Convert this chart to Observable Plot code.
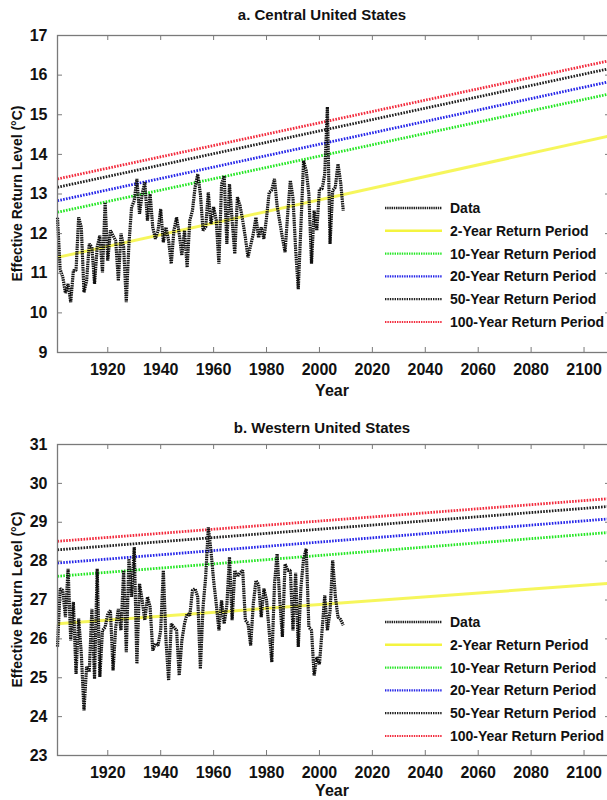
<!DOCTYPE html>
<html><head><meta charset="utf-8">
<script src="https://cdn.jsdelivr.net/npm/d3@7"></script>
<script src="https://cdn.jsdelivr.net/npm/@observablehq/plot@0.6"></script>
<style>
html,body{margin:0;padding:0;background:#fff;overflow:hidden}
#wrap{position:relative;width:607px;height:800px;overflow:hidden;font-family:"Liberation Sans",Arial,sans-serif}
#wrap svg{display:block;max-width:none !important;}
#wrap svg text{font-weight:bold}
</style></head><body><div id="wrap"></div>
<script>
// ---- data ----
const years = d3.range(1901, 2010);
const centralTemps = [
 12.40,11.10,10.90,10.50,10.73,10.27,11.07,11.07,12.41,12.16,
 10.52,10.81,11.74,11.66,10.73,11.66,11.95,11.02,12.79,11.32,
 12.08,11.95,11.82,10.81,12.00,11.66,10.27,11.74,12.67,12.83,
 13.38,12.50,13.00,13.30,12.33,13.00,12.16,11.87,12.08,12.62,
 11.78,12.16,11.82,11.24,12.08,12.41,12.00,11.45,12.08,11.15,
 12.33,12.58,13.17,13.50,13.00,12.08,12.16,13.04,12.24,12.67,
 12.33,11.24,13.25,13.46,11.74,13.25,12.33,11.49,12.92,12.70,
 12.33,11.90,11.40,11.70,12.00,12.41,11.90,12.16,11.87,12.40,
 13.04,13.10,13.38,12.70,12.30,11.90,11.53,12.50,13.34,12.90,
 11.60,10.60,12.20,13.84,13.59,13.00,11.24,12.58,12.08,13.13,
 13.13,13.50,15.20,11.74,13.09,13.17,13.76,13.30,12.58
];
const westernTemps = [
 25.80,27.29,27.25,26.56,27.80,25.96,26.95,25.10,26.52,25.62,
 24.16,25.28,25.15,26.77,24.97,27.80,25.02,26.22,26.30,26.65,
 26.73,25.19,26.30,26.77,26.22,27.76,25.66,28.06,27.08,28.36,
 25.36,27.42,26.99,26.48,27.08,26.82,25.70,25.88,25.83,26.22,
 27.76,25.96,24.93,26.39,26.30,26.22,25.06,25.96,26.39,26.65,
 26.60,27.25,27.29,27.08,25.23,26.82,27.59,28.87,28.27,27.50,
 26.90,26.22,26.99,26.39,26.86,28.10,26.48,27.76,27.60,27.70,
 27.76,26.48,26.40,25.83,26.90,27.50,27.40,26.56,27.29,27.00,
 26.20,25.40,27.40,28.19,27.00,26.05,27.93,27.76,27.76,26.22,
 27.70,25.79,27.33,28.06,28.32,26.30,26.22,25.06,25.53,25.35,
 26.22,27.12,26.22,26.70,28.02,27.10,26.56,26.50,26.35
];
const periods = ["2-Year Return Period","10-Year Return Period","20-Year Return Period","50-Year Return Period","100-Year Return Period"];
const periodColors = ["#f4f440","#22e622","#2424e8","#1e1e1e","#f22a3c"];
const lineYears = [1901, 2110];
const centralStart = [11.40, 12.54, 12.83, 13.17, 13.38];
const centralEnd   = [14.47, 15.53, 15.84, 16.17, 16.37];
const westernStart = [26.39, 27.61, 27.95, 28.29, 28.51];
const westernEnd   = [27.43, 28.74, 29.09, 29.41, 29.61];
const xTicks = d3.range(1920, 2101, 20);
const centralYTicks = d3.range(9, 18);
const westernYTicks = d3.range(23, 32);

const FONT = '"Liberation Sans", Arial, sans-serif';
const AXIS = "#7a7a7a";

function panel(o) {
  const W = 612, ML = 57, MR = 2;
  const innerW = W - ML - MR;
  const innerH = o.height - o.marginTop - o.marginBottom;
  const data = years.map((y, i) => ({year: y, value: o.temps[i]}));
  const rlMarks = periods.map((p, i) => Plot.line(
    lineYears.map((yr, j) => ({year: yr, value: j === 0 ? o.start[i] : o.end[i]})),
    {x: "year", y: "value", stroke: periodColors[i], strokeLinecap: "butt",
     strokeWidth: i === 0 ? 3 : 2.8, strokeDasharray: i === 0 ? null : "1.6,1.3",
     strokeOpacity: i === 0 ? 0.85 : 1}));
  const chart = Plot.plot({
    width: W, height: o.height,
    marginLeft: ML, marginRight: MR, marginTop: o.marginTop, marginBottom: o.marginBottom,
    style: {fontFamily: FONT, fontSize: "16px", fontWeight: "bold", color: "#111", background: "transparent", maxWidth: "none"},
    x: {domain: [1901, 2110], ticks: xTicks, tickFormat: d => String(d), tickSize: 0, tickPadding: 11, label: null},
    y: {domain: o.yDomain, ticks: o.yTicks, tickSize: 0, tickPadding: 10, label: null},
    marks: [
      ...rlMarks,
      Plot.line(data, {x: "year", y: "value", stroke: "#111", strokeWidth: 3.2, strokeDasharray: "1.5,0.8", strokeLinecap: "butt", strokeLinejoin: "miter", curve: "linear"}),
      Plot.frame({stroke: AXIS, strokeWidth: 1.3}),
      Plot.tickX(xTicks, {x: d => d, stroke: AXIS, insetTop: innerH - 5}),
      Plot.tickX(xTicks, {x: d => d, stroke: AXIS, insetBottom: innerH - 5}),
      Plot.tickY(o.yTicks, {y: d => d, stroke: AXIS, insetRight: innerW - 5}),
      Plot.tickY(o.yTicks, {y: d => d, stroke: AXIS, insetLeft: innerW - 5})
    ]
  });
  const svg = d3.select(chart);
  // title
  svg.append("text").attr("x", 322).attr("y", o.titleY).attr("dy", "0.35em")
    .attr("text-anchor", "middle").attr("font-size", 15).attr("fill", "#111").text(o.title);
  // y label
  const cy = o.marginTop + innerH / 2;
  svg.append("text").attr("transform", `translate(17,${cy}) rotate(-90)`).attr("dy", "0.35em")
    .attr("text-anchor", "middle").attr("font-size", 14).attr("fill", "#111").text("Effective Return Level (\u00B0C)");
  // x label
  svg.append("text").attr("x", 332).attr("y", o.marginTop + innerH + o.yearOffset).attr("dy", "0.35em")
    .attr("text-anchor", "middle").attr("font-size", 16).attr("fill", "#111").text("Year");
  // legend
  const items = [{label: "Data", color: "#222", dash: "1.4,0.8", w: 2.4}]
    .concat(periods.map((p, i) => ({label: p, color: periodColors[i], dash: i === 0 ? null : "1.4,1", w: i === 0 ? 2.6 : 2.2})));
  const g = svg.append("g").attr("text-anchor", "start");
  items.forEach((it, k) => {
    const y = o.legendTop + k * 22.8;
    g.append("line").attr("x1", 385).attr("x2", 442).attr("y1", y).attr("y2", y)
      .attr("stroke", it.color).attr("stroke-width", it.w).attr("stroke-dasharray", it.dash);
    g.append("text").attr("x", 450).attr("y", y).attr("dy", "0.35em").attr("font-size", 14)
      .attr("text-anchor", "start").attr("fill", "#111").text(it.label);
  });
  return chart;
}

const wrap = document.getElementById("wrap");
wrap.appendChild(panel({
  title: "a. Central United States", temps: centralTemps, start: centralStart, end: centralEnd,
  yDomain: [9, 17], yTicks: centralYTicks, height: 400, marginTop: 35, marginBottom: 48,
  titleY: 15, legendTop: 208, yearOffset: 38
}));
wrap.appendChild(panel({
  title: "b. Western United States", temps: westernTemps, start: westernStart, end: westernEnd,
  yDomain: [23, 31], yTicks: westernYTicks, height: 400, marginTop: 44, marginBottom: 45,
  titleY: 28, legendTop: 222, yearOffset: 35
}));
</script></body></html>
